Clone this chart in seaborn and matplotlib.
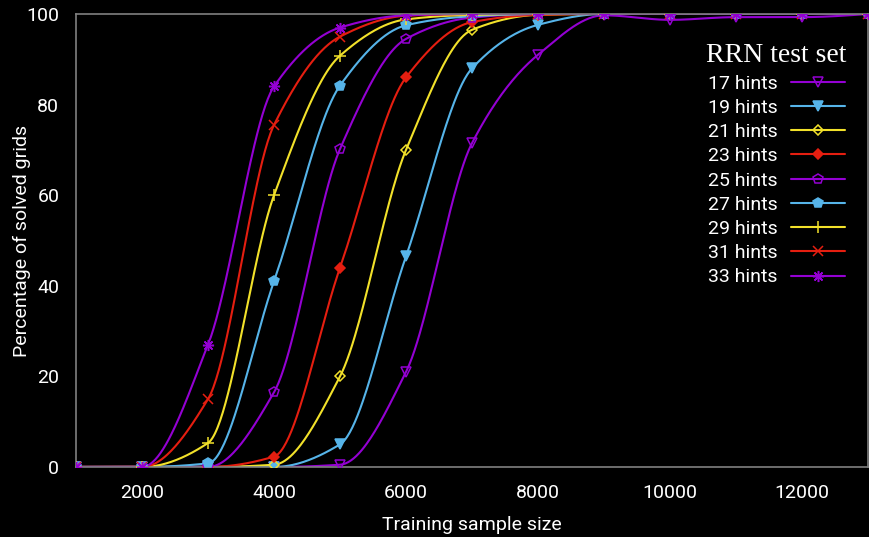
import numpy as np
import matplotlib
matplotlib.use('Agg')
import matplotlib.pyplot as plt
import seaborn as sns
from matplotlib.lines import Line2D

sns.set_style('ticks')
plt.rcParams['font.family'] = ['Roboto', 'DejaVu Sans']

sizes = [1000, 2000, 3000, 4000, 5000, 6000, 7000, 8000, 9000, 10000, 11000, 12000, 13000]
hints_17 = [0, 0, 0, 0, 0.5, 21, 71.5, 91, 99.7, 98.7, 99.3, 99.3, 100]
hints_19 = [0, 0, 0, 0, 5, 46.5, 88, 97.6, 100, 100, 100, 100, 100]
hints_21 = [0, 0, 0, 0.5, 20, 70, 96.5, 99.8, 100, 100, 100, 100, 100]
hints_23 = [0, 0, 0, 2.3, 44, 86, 98.2, 99.8, 100, 100, 100, 100, 100]
hints_25 = [0, 0, 0, 16.5, 70.2, 94.5, 99.2, 100, 100, 100, 100, 100, 100]
hints_27 = [0, 0, 0.8, 41, 84.2, 97.5, 99.5, 100, 100, 100, 100, 100, 100]
hints_29 = [0, 0, 5.3, 60, 90.8, 98.8, 99.8, 100, 100, 100, 100, 100, 100]
hints_31 = [0, 0, 15, 75.5, 95, 99.6, 100, 100, 100, 100, 100, 100, 100]
hints_33 = [0, 0, 27, 84, 97, 99.7, 100, 100, 100, 100, 100, 100, 100]
labels = ['17 hints', '19 hints', '21 hints', '23 hints', '25 hints',
          '27 hints', '29 hints', '31 hints', '33 hints']

series = [hints_17, hints_19, hints_21, hints_23, hints_25, hints_27, hints_29, hints_31, hints_33]
purple, blue, yellow, red = '#9400D3', '#56B4E9', '#F2E12A', '#E51E10'
colors = [purple, blue, yellow, red, purple, blue, yellow, red, purple]
# (marker, filled)
markers = [('v', False), ('v', True), ('D', False), ('D', True), ('p', False),
           ('p', True), ('+', True), ('x', True), ((8, 2, 0), True)]
msizes = [7, 7, 5.5, 5.5, 7, 7, 8, 7, 8]


def mcspline(x, y, n=600):
    # monotone cubic (pchip) so the curves pass through every point without wiggles
    x = np.asarray(x, float)
    y = np.asarray(y, float)
    h = np.diff(x)
    delta = np.diff(y) / h
    k = len(x)
    d = np.zeros(k)
    for j in range(1, k - 1):
        if delta[j - 1] * delta[j] > 0:
            w1 = 2 * h[j] + h[j - 1]
            w2 = h[j] + 2 * h[j - 1]
            d[j] = (w1 + w2) / (w1 / delta[j - 1] + w2 / delta[j])

    def end(h0, h1, d0, d1):
        s = ((2 * h0 + h1) * d0 - h0 * d1) / (h0 + h1)
        if np.sign(s) != np.sign(d0):
            return 0.0
        if np.sign(d0) != np.sign(d1) and abs(s) > 3 * abs(d0):
            return 3 * d0
        return s

    d[0] = end(h[0], h[1], delta[0], delta[1])
    d[-1] = end(h[-1], h[-2], delta[-1], delta[-2])
    xs = np.linspace(x[0], x[-1], n)
    i = np.clip(np.searchsorted(x, xs) - 1, 0, k - 2)
    t = (xs - x[i]) / h[i]
    h00 = 2 * t ** 3 - 3 * t ** 2 + 1
    h10 = t ** 3 - 2 * t ** 2 + t
    h01 = -2 * t ** 3 + 3 * t ** 2
    h11 = t ** 3 - t ** 2
    ys = h00 * y[i] + h10 * h[i] * d[i] + h01 * y[i + 1] + h11 * h[i] * d[i + 1]
    return xs, ys


fig = plt.figure(figsize=(8.7, 5.37), dpi=100, facecolor='black')
ax = fig.add_axes([0.0874, 0.1304, 0.9103, 0.8436])
ax.set_facecolor('black')

handles = []
for vals, c, (m, filled), ms, lab in zip(series, colors, markers, msizes, labels):
    xs, ys = mcspline(sizes, vals)
    sns.lineplot(x=xs, y=ys, ax=ax, color=c, lw=1.5, estimator=None, sort=False, zorder=2)
    mk = dict(marker=m, markersize=ms, markeredgecolor=c, markeredgewidth=1.1,
              markerfacecolor=c if filled else 'none')
    ax.plot(sizes, vals, linestyle='none', zorder=3, **mk)
    handles.append(Line2D([], [], color=c, lw=1.5, **mk))

ax.set_xlim(1000, 13000)
ax.set_ylim(0, 100)
ax.set_xticks([2000, 4000, 6000, 8000, 10000, 12000])
ax.set_yticks([0, 20, 40, 60, 80, 100])
ax.tick_params(length=0, labelsize=14, colors='white')
ax.tick_params(axis='x', pad=12)
ax.tick_params(axis='y', pad=12)
for s in ax.spines.values():
    s.set_color('#808080')
    s.set_linewidth(1.2)
ax.set_xlabel('Training sample size', color='white', fontsize=14, labelpad=10)
ax.set_ylabel('Percentage of solved grids', color='white', fontsize=14, labelpad=-3)

leg = ax.legend(handles=handles, labels=labels, loc='upper right', bbox_to_anchor=(0.973, 0.935),
                frameon=False, markerfirst=False, fontsize=14, labelcolor='white',
                handlelength=2.8, handletextpad=0.7, labelspacing=0.32, borderpad=0,
                borderaxespad=0, title='RRN test set',
                title_fontproperties={'family': 'Liberation Serif', 'size': 20})
leg.get_title().set_color('white')

fig.savefig('out.png', dpi=100, facecolor='black')
